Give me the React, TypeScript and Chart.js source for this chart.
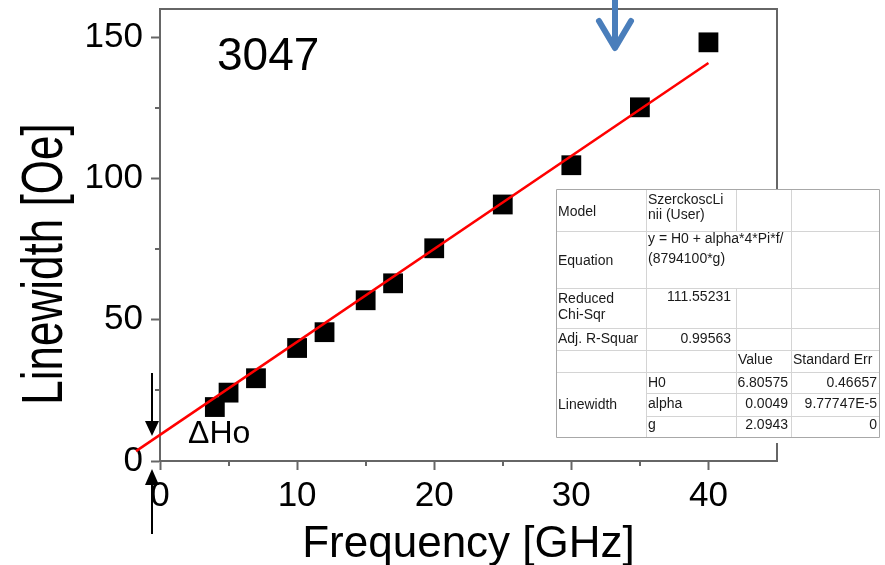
import React, { useEffect, useRef } from 'react';
import { Chart, registerables } from 'chart.js';

Chart.register(...registerables);

// ---- data ----
const frequencies = [4, 5, 7, 10, 12, 15, 17, 20, 25, 30, 35, 40];
const linewidths = [19.1, 24.2, 29.3, 40.0, 45.6, 56.9, 62.9, 75.3, 90.8, 104.7, 125.2, 148.2];
const fitFrequencies = [-1.75, 40];
const fitLinewidths = [3.5, 140.9];

const xMajorTicks = [0, 10, 20, 30, 40];
const xMinorTicks = [5, 15, 25, 35];
const yMajorTicks = [0, 50, 100, 150];
const yMinorTicks = [25, 75, 125];

const xTitle = 'Frequency [GHz]';
const yTitle = 'Linewidth [Oe]';
const sampleLabel = '3047';
const offsetLabel = 'ΔHo';

// fit-report table contents
const tableModel = ['Model', 'SzerckoscLi', 'nii (User)'];
const tableEquation = ['Equation', 'y = H0 + alpha*4*Pi*f/', '(8794100*g)'];
const tableChiSqr = ['Reduced', 'Chi-Sqr', '111.55231'];
const tableAdjR = ['Adj. R-Squar', '0.99563'];
const tableHeaders = ['Value', 'Standard Err'];
const tableGroup = 'Linewidth';
const paramNames = ['H0', 'alpha', 'g'];
const paramValues = ['6.80575', '0.0049', '2.0943'];
const paramErrors = ['0.46657', '9.77747E-5', '0'];

const FONT = "'Liberation Sans', Arial, sans-serif";
const AXIS_COLOR = '#666';

const overlayPlugin = {
  id: 'overlay',
  afterDraw(chart: any) {
    const ctx = chart.ctx as CanvasRenderingContext2D;
    const { left, right, top, bottom } = chart.chartArea;
    const xs = chart.scales.x;
    const ys = chart.scales.y;
    ctx.save();

    // top & right frame
    ctx.strokeStyle = AXIS_COLOR;
    ctx.lineWidth = 2;
    ctx.beginPath();
    ctx.moveTo(left, top);
    ctx.lineTo(right, top);
    ctx.lineTo(right, bottom);
    ctx.stroke();

    // minor ticks
    xMinorTicks.forEach((v) => {
      const px = Math.round(xs.getPixelForValue(v));
      ctx.beginPath();
      ctx.moveTo(px, bottom);
      ctx.lineTo(px, bottom + 5);
      ctx.stroke();
    });
    yMinorTicks.forEach((v) => {
      const py = Math.round(ys.getPixelForValue(v));
      ctx.beginPath();
      ctx.moveTo(left, py);
      ctx.lineTo(left - 5, py);
      ctx.stroke();
    });

    // axis titles
    ctx.fillStyle = '#000';
    ctx.font = `44px ${FONT}`;
    ctx.textAlign = 'center';
    ctx.textBaseline = 'alphabetic';
    ctx.fillText(xTitle, (left + right) / 2, 557);

    ctx.save();
    ctx.translate(62, 264);
    ctx.rotate(-Math.PI / 2);
    ctx.scale(1, 1.3);
    ctx.font = `44px ${FONT}`;
    ctx.textAlign = 'center';
    ctx.textBaseline = 'alphabetic';
    ctx.fillText(yTitle, 0, 0);
    ctx.restore();

    // annotations
    ctx.textAlign = 'left';
    ctx.font = `46px ${FONT}`;
    ctx.fillText(sampleLabel, 217, 70);
    ctx.font = `32px ${FONT}`;
    ctx.fillText(offsetLabel, 188, 443);

    // black arrows marking the offset
    ctx.strokeStyle = '#000';
    ctx.fillStyle = '#000';
    ctx.lineWidth = 2;
    ctx.beginPath();
    ctx.moveTo(152, 373);
    ctx.lineTo(152, 424);
    ctx.stroke();
    ctx.beginPath();
    ctx.moveTo(145, 421);
    ctx.lineTo(159, 421);
    ctx.lineTo(152, 436);
    ctx.closePath();
    ctx.fill();
    ctx.beginPath();
    ctx.moveTo(152, 482);
    ctx.lineTo(152, 534);
    ctx.stroke();
    ctx.beginPath();
    ctx.moveTo(145, 485);
    ctx.lineTo(159, 485);
    ctx.lineTo(152, 469);
    ctx.closePath();
    ctx.fill();

    // blue arrow at top
    ctx.strokeStyle = '#4a7ebb';
    ctx.lineWidth = 6;
    ctx.lineCap = 'round';
    ctx.lineJoin = 'round';
    ctx.beginPath();
    ctx.moveTo(615, -3);
    ctx.lineTo(615, 47);
    ctx.stroke();
    ctx.beginPath();
    ctx.moveTo(599, 21);
    ctx.lineTo(615, 48);
    ctx.lineTo(631, 21);
    ctx.stroke();
    ctx.lineCap = 'butt';

    // fit table
    const tx = [556, 646, 736, 791, 879];
    const ty = [189, 231, 288, 328, 350, 372, 393, 416, 437];
    ctx.fillStyle = '#fff';
    ctx.fillRect(555, 189, 326, 254);
    ctx.strokeStyle = '#d4d4d4';
    ctx.lineWidth = 1;
    const hline = (y: number, x0: number, x1: number) => {
      ctx.beginPath();
      ctx.moveTo(x0, y + 0.5);
      ctx.lineTo(x1, y + 0.5);
      ctx.stroke();
    };
    const vline = (x: number, y0: number, y1: number) => {
      ctx.beginPath();
      ctx.moveTo(x + 0.5, y0);
      ctx.lineTo(x + 0.5, y1);
      ctx.stroke();
    };
    for (let i = 1; i < ty.length - 1; i++) {
      if (i === 6 || i === 7) hline(ty[i], tx[1], tx[4]);
      else hline(ty[i], tx[0], tx[4]);
    }
    vline(tx[1], ty[0], ty[8]);
    vline(tx[2], ty[0], ty[1]);
    vline(tx[2], ty[2], ty[8]);
    vline(tx[3], ty[0], ty[8]);
    ctx.strokeStyle = '#a8a8a8';
    ctx.strokeRect(tx[0] + 0.5, ty[0] + 0.5, tx[4] - tx[0], ty[8] - ty[0]);

    ctx.fillStyle = '#1a1a1a';
    ctx.font = `14px ${FONT}`;
    ctx.textBaseline = 'middle';
    const L = (s: string, x: number, y: number) => {
      ctx.textAlign = 'left';
      ctx.fillText(s, x, y);
    };
    const R = (s: string, x: number, y: number) => {
      ctx.textAlign = 'right';
      ctx.fillText(s, x, y);
    };
    L(tableModel[0], 558, 212);
    L(tableModel[1], 648, 200);
    L(tableModel[2], 648, 215);
    L(tableEquation[0], 558, 261);
    L(tableEquation[1], 648, 239);
    L(tableEquation[2], 648, 259);
    L(tableChiSqr[0], 558, 299);
    L(tableChiSqr[1], 558, 315);
    R(tableChiSqr[2], 731, 297);
    L(tableAdjR[0], 558, 339);
    R(tableAdjR[1], 731, 339);
    L(tableHeaders[0], 738, 360);
    L(tableHeaders[1], 793, 360);
    L(tableGroup, 558, 405);
    const rowY = [383, 404, 425];
    paramNames.forEach((n, i) => {
      L(n, 648, rowY[i]);
      R(paramValues[i], 788, rowY[i]);
      R(paramErrors[i], 877, rowY[i]);
    });

    ctx.restore();
  },
};

export default function App() {
  const canvasRef = useRef<HTMLCanvasElement | null>(null);

  useEffect(() => {
    const canvas = canvasRef.current;
    if (!canvas) return;
    const chart = new Chart(canvas, {
      type: 'scatter',
      data: {
        datasets: [
          {
            label: 'fit',
            data: fitFrequencies.map((x, i) => ({ x, y: fitLinewidths[i] })),
            showLine: true,
            borderColor: '#ff0000',
            borderWidth: 2.5,
            pointRadius: 0,
            clip: false,
            order: 0,
          } as any,
          {
            label: 'Linewidth',
            data: frequencies.map((x, i) => ({ x, y: linewidths[i] })),
            pointStyle: 'rect',
            pointRadius: 14,
            pointHoverRadius: 14,
            backgroundColor: '#000',
            borderColor: '#000',
            borderWidth: 0,
            clip: false,
            order: 1,
          } as any,
        ],
      },
      options: {
        responsive: false,
        animation: false,
        devicePixelRatio: 1,
        layout: { autoPadding: false, padding: { left: 0, right: 108, top: 9, bottom: 0 } },
        plugins: { legend: { display: false }, tooltip: { enabled: false } },
        scales: {
          x: {
            type: 'linear',
            min: 0,
            max: 45,
            afterBuildTicks: (s: any) => {
              s.ticks = xMajorTicks.map((v) => ({ value: v }));
            },
            afterFit: (s: any) => {
              s.height = 104;
              s.paddingLeft = 0;
              s.paddingRight = 0;
            },
            ticks: {
              autoSkip: false,
              maxRotation: 0,
              padding: 5,
              color: '#000',
              font: { size: 35, family: FONT },
            },
            grid: {
              drawOnChartArea: false,
              tickLength: 9,
              tickWidth: 2,
              tickColor: AXIS_COLOR,
            },
            border: { color: AXIS_COLOR, width: 2 },
          },
          y: {
            type: 'linear',
            min: 0,
            max: 160,
            afterBuildTicks: (s: any) => {
              s.ticks = yMajorTicks.map((v) => ({ value: v }));
            },
            afterFit: (s: any) => {
              s.width = 160;
              s.paddingTop = 0;
              s.paddingBottom = 0;
            },
            ticks: {
              autoSkip: false,
              padding: 8,
              color: '#000',
              font: { size: 35, family: FONT },
            },
            grid: {
              drawOnChartArea: false,
              tickLength: 9,
              tickWidth: 2,
              tickColor: AXIS_COLOR,
            },
            border: { color: AXIS_COLOR, width: 2 },
          },
        },
      } as any,
      plugins: [overlayPlugin],
    });
    return () => chart.destroy();
  }, []);

  return (
    <div style={{ position: 'absolute', left: 0, top: 0, width: 885, height: 565, background: '#fff' }}>
      <canvas ref={canvasRef} width={885} height={565} style={{ display: 'block' }} />
    </div>
  );
}
